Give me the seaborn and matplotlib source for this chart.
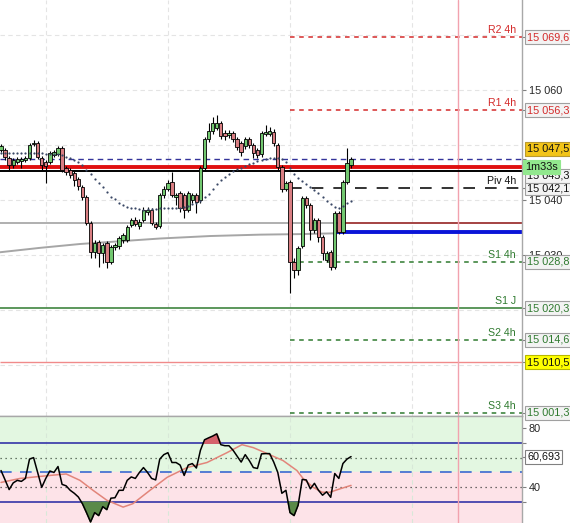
import numpy as np
import pandas as pd
import matplotlib
matplotlib.use("Agg")
import matplotlib.pyplot as plt
import matplotlib.transforms as mtransforms
import seaborn as sns

# bougies (prix)
opens = [15049.1, 15049.1, 15047.6, 15046.4, 15046.9, 15047.1, 15047.3, 15047.6, 15050.2, 15050.4,
         15047.6, 15046.9, 15046.9, 15048.2, 15048.4, 15049.5, 15045.8, 15045.5, 15044.9, 15043.8,
         15042.4, 15040.5, 15035.8, 15030.5, 15032.4, 15030.4, 15032.2, 15028.7, 15031.5, 15031.6,
         15032.7, 15032.7, 15035.5, 15036.4, 15035.3, 15036.4, 15037.8, 15038.2, 15035.6, 15035.3,
         15040.9, 15042.0, 15043.3, 15040.5, 15041.3, 15040.9, 15038.2, 15040.0, 15040.9, 15040.0,
         15045.8, 15051.1, 15052.5, 15053.1, 15054.0, 15052.2, 15051.8, 15052.2, 15051.1, 15050.4,
         15049.8, 15051.1, 15050.0, 15049.1, 15048.4, 15052.0, 15052.0, 15052.4, 15050.0, 15046.0,
         15042.0, 15043.3, 15028.7, 15027.3, 15031.6, 15040.4, 15039.1, 15034.5, 15036.4, 15033.3,
         15029.1, 15030.5, 15027.8, 15037.6, 15034.2, 15043.3, 15046.4]
closes = [15049.8, 15047.8, 15046.4, 15047.3, 15047.5, 15047.5, 15047.6, 15050.0, 15050.4, 15047.8,
          15046.4, 15046.2, 15048.5, 15048.7, 15049.5, 15045.5, 15045.1, 15044.5, 15043.6, 15042.5,
          15040.5, 15035.8, 15030.5, 15032.2, 15030.4, 15031.8, 15028.7, 15031.5, 15031.8, 15033.1,
          15033.6, 15035.1, 15036.4, 15035.6, 15036.0, 15038.2, 15038.2, 15035.8, 15035.1, 15040.9,
          15042.0, 15043.1, 15040.9, 15040.9, 15038.5, 15038.2, 15041.3, 15040.9, 15039.6, 15045.8,
          15051.1, 15052.5, 15054.0, 15054.0, 15051.6, 15051.6, 15052.2, 15051.1, 15049.6, 15048.7,
          15051.1, 15050.0, 15048.5, 15048.2, 15052.2, 15052.4, 15052.5, 15050.4, 15046.0, 15042.0,
          15043.1, 15028.7, 15027.3, 15031.3, 15040.4, 15039.1, 15034.5, 15036.4, 15033.3, 15030.4,
          15030.4, 15027.8, 15037.6, 15034.2, 15043.3, 15046.7, 15047.5]
highs = [15050.2, 15049.5, 15048.0, 15047.6, 15047.8, 15047.8, 15048.0, 15050.4, 15050.9, 15050.7,
         15048.0, 15047.3, 15048.9, 15049.1, 15049.8, 15049.8, 15046.2, 15045.8, 15045.3, 15044.2,
         15042.7, 15040.9, 15036.2, 15032.7, 15032.7, 15032.2, 15032.5, 15031.8, 15032.2, 15033.5,
         15034.0, 15035.5, 15036.7, 15036.9, 15036.5, 15038.7, 15038.7, 15038.5, 15036.0, 15041.3,
         15042.5, 15043.6, 15045.1, 15041.3, 15041.6, 15041.3, 15041.6, 15041.3, 15041.3, 15046.2,
         15051.5, 15054.0, 15055.1, 15055.5, 15054.4, 15052.7, 15052.7, 15052.5, 15051.5, 15050.7,
         15051.5, 15051.5, 15050.4, 15049.5, 15052.5, 15053.6, 15053.3, 15052.9, 15050.4, 15046.4,
         15043.5, 15043.6, 15029.5, 15031.6, 15040.7, 15040.7, 15039.5, 15036.7, 15036.7, 15033.6,
         15030.7, 15030.9, 15038.0, 15038.0, 15043.6, 15049.5, 15047.8]
lows = [15048.7, 15047.3, 15045.5, 15045.8, 15046.5, 15045.8, 15046.9, 15047.3, 15049.8, 15047.5,
        15045.5, 15043.1, 15046.5, 15047.8, 15048.0, 15045.1, 15044.5, 15044.0, 15042.5, 15041.8,
        15040.0, 15035.5, 15029.5, 15029.5, 15027.8, 15028.5, 15027.6, 15028.4, 15030.9, 15031.1,
        15032.2, 15032.4, 15035.1, 15035.3, 15034.7, 15036.0, 15037.3, 15035.5, 15034.7, 15034.9,
        15040.4, 15041.6, 15040.5, 15039.1, 15037.8, 15036.7, 15037.8, 15039.5, 15037.6, 15039.5,
        15045.3, 15050.5, 15052.0, 15052.7, 15051.1, 15050.9, 15051.3, 15050.5, 15049.1, 15048.0,
        15049.3, 15049.5, 15047.6, 15047.6, 15047.8, 15051.6, 15051.6, 15049.8, 15045.5, 15041.5,
        15041.6, 15023.1, 15025.8, 15026.4, 15031.3, 15038.5, 15032.7, 15034.0, 15032.4, 15029.1,
        15028.7, 15027.3, 15027.5, 15033.8, 15033.8, 15042.9, 15045.8]

# moyenne mobile en pointillés
ma_dots = [15048.6, 15048.6, 15048.6, 15048.6, 15048.6, 15048.6, 15048.6, 15048.6, 15048.5, 15048.5,
           15048.5, 15048.4, 15048.4, 15048.4, 15048.3, 15048.2, 15047.9, 15047.6, 15047.3, 15046.9,
           15046.3, 15045.5, 15044.8, 15043.9, 15043.1, 15042.3, 15041.5, 15040.5, 15040.1, 15039.5,
           15039.1, 15038.8, 15038.6, 15038.5, 15038.4, 15038.2, 15038.3, 15038.4, 15038.4, 15038.5,
           15038.5, 15038.5, 15038.5, 15038.5, 15038.6, 15038.8, 15038.9, 15039.3, 15039.5, 15039.8,
           15040.5, 15041.1, 15042.0, 15042.9, 15043.6, 15044.2, 15044.7, 15045.2, 15045.6, 15045.9,
           15046.2, 15046.5, 15046.7, 15047.0, 15047.3, 15047.5, 15047.6, 15047.6, 15047.6, 15047.5,
           15046.9, 15045.8, 15044.7, 15044.0, 15043.5, 15042.9, 15042.4, 15041.9, 15041.3, 15040.5,
           15039.8, 15039.2, 15038.7, 15038.6, 15038.9, 15039.4, 15039.8]

# moyenne longue (grise)
ma_long_idx = [-0.25, 9.6, 19.4, 29.2, 39.1, 51.4, 63.6, 73.5, 82.6]
ma_long_val = [15030.5, 15031.3, 15032.0, 15032.5, 15033.0, 15033.45, 15033.7, 15033.8, 15033.95]

# RSI
rsi = [51.3, 45, 38.5, 43, 44.7, 44, 46, 59, 60, 50,
       40, 46, 51, 50, 54, 42, 41, 38, 36, 33.5,
       29, 23, 16.7, 23, 21, 27, 25, 32.7, 33, 38,
       38, 44.7, 47, 46, 50, 53.3, 50, 46, 45, 59,
       62, 63.3, 56.7, 56.7, 55, 48, 55, 56, 53, 65,
       72, 73.3, 74.5, 76, 68.7, 68, 68, 65, 61, 57,
       62, 58, 53.3, 52.7, 62.5, 62.7, 62.7, 57, 50, 36,
       38, 23, 21, 28, 45.3, 45, 39, 42.7, 38, 34.7,
       37, 33.3, 49.3, 46, 56, 59, 60.693]
rsi_ma_idx = [0, 4.7, 12, 16, 19.4, 22.6, 26, 30, 32.4, 36.6, 40.8, 45.7, 50.6,
              55.5, 59.2, 62, 65.4, 69.3, 72.7, 74.2, 76.7, 78.9, 80.8, 83.3, 86]
rsi_ma_val = [43.3, 46, 48, 49, 44.7, 38, 31.3, 26.7, 29, 38, 46.7, 53.3, 56.7,
              63.3, 68.7, 66.7, 62.7, 58, 51.3, 46, 40, 36.7, 36.7, 39, 41.3]

# niveaux pivots
level_names = ['R2 4h', 'R1 4h', 'Piv 4h', 'S1 4h', 'S1 J', 'S2 4h', 'S3 4h']
level_values = [15069.6, 15056.3, 15042.1, 15028.8, 15020.3, 15014.6, 15001.3]
level_colors = ['#d42a2a', '#d42a2a', '#111111', '#2f7a2f', '#2f7a2f', '#2f7a2f', '#2f7a2f']
level_styles = [(0, (3, 3)), (0, (3, 3)), (0, (7, 6)), (0, (3, 3)), '-', (0, (3, 3)), (0, (3, 3))]
level_start = [71, 71, 71, 71, None, 71, 71]

last_price = 15047.5
red_line = 15046.0
black_line = 15045.3
gray_line = 15035.8
darkred_line = 15035.8
blue_line = 15034.2
pink_line = 15010.5
timer_text = '1m33s'
rsi_last = 60.693


def fmt(v):
    return f"{v:,.1f}".replace(',', ' ').replace('.', ',')


sns.set_style("white")
plt.rcParams['font.family'] = ['Liberation Sans', 'DejaVu Sans']

fig = plt.figure(figsize=(5.70, 5.23), dpi=100)
ax = fig.add_axes([0, 107 / 523, 522 / 570, 416 / 523])
ax2 = fig.add_axes([0, 0, 522 / 570, 107 / 523])

xmin, xmax = -0.25, 128.0
idx = np.arange(len(closes))
df = pd.DataFrame({'i': idx, 'o': opens, 'h': highs, 'l': lows, 'c': closes})
df['up'] = df['c'] >= df['o']

# grille
grid_x = [11, 41, 71, 101]
for g in grid_x:
    ax.axvline(g, color='#e4e4e4', lw=0.8, ls=(0, (4, 3)), zorder=0)
    ax2.axvline(g, color='#d8e8d8', lw=0.8, ls=(0, (4, 3)), zorder=1)
for g in [15070, 15060, 15050, 15040, 15030, 15020, 15010]:
    ax.axhline(g, color='#e4e4e4', lw=0.8, ls=(0, (4, 3)), zorder=0)

# niveaux
for name, val, col, st, start in zip(level_names, level_values, level_colors, level_styles, level_start):
    x0 = xmin if start is None else start
    ax.hlines(val, x0, xmax, color=col, lw=1.1 if name != 'Piv 4h' else 1.2, linestyles=st, zorder=1)
    ax.annotate(name, xy=(126.5, val), xytext=(0, 2), textcoords='offset pixels',
                ha='right', va='bottom', fontsize=7.6, color=col)

ax.hlines(pink_line, xmin, xmax, color='#f08a8a', lw=1, zorder=1)
ax.hlines(last_price, xmin, xmax, color='#34349a', lw=1, linestyles=(0, (4, 3)), zorder=1)
ax.hlines(gray_line, xmin, 83, color='#9a9a9a', lw=1.1, zorder=1)
ax.hlines(darkred_line, 83, xmax, color='#8b1010', lw=1.1, zorder=1)
ax.hlines(blue_line, 82.6, xmax, color='#0a14d8', lw=2.8, zorder=2)
ax.hlines(red_line, xmin, xmax, color='#e01010', lw=2.8, zorder=2)
ax.hlines(black_line, xmin, xmax, color='black', lw=1.4, zorder=2)

sns.lineplot(x=ma_long_idx, y=ma_long_val, ax=ax, color='#a6a6a6', lw=1.4, zorder=1)

# bougies
ax.vlines(df['i'], df['l'], df['h'], color='black', lw=0.8, zorder=3)
body_bottom = np.minimum(df['o'], df['c'])
body_h = np.maximum(np.abs(df['c'] - df['o']), 0.15)
colors = np.where(df['up'], '#72c870', '#d97e82')
ax.bar(df['i'], body_h, bottom=body_bottom, width=0.82, color=colors,
       edgecolor='black', linewidth=0.6, zorder=4)

ax.plot(idx, ma_dots, ls='none', marker='o', ms=1.6, mew=0, color='#3a4866', zorder=5)

ax.axvline(112.3, color='#f2a2ae', lw=1, zorder=1)

ax.set_xlim(xmin, xmax)
ax.set_ylim(15000.73, 15076.36)
ax.set_xticks([])
ax.set_xlabel('')
ax.set_ylabel('')

trans = mtransforms.blended_transform_factory(ax.transAxes, ax.transData)
tick_vals = [15069.6, 15060, 15056.3, 15047.5, 15045.3, 15042.1, 15040, 15030,
             15028.8, 15020.3, 15014.6, 15010.5, 15001.3]
tick_lbls = ['' if v not in (15060, 15040, 15030) else fmt(v).replace(',0', '') for v in tick_vals]
ax.yaxis.tick_right()
ax.set_yticks(tick_vals)
ax.set_yticklabels(tick_lbls)
ax.tick_params(axis='y', length=3, width=0.8, color='#808080', labelsize=7.8, pad=2)

box = dict(boxstyle='square,pad=0.18', fc='#f3f3f3', ec='#a0a0a0', lw=0.8)
for name, val, col in zip(level_names, level_values, level_colors):
    ax.text(1.01, val, fmt(val), transform=trans, fontsize=7.8, color=col,
            va='center', ha='left', bbox=box, clip_on=False, zorder=6)
ax.text(1.01, black_line - 0.9, fmt(black_line), transform=trans, fontsize=7.8, color='#111111',
        va='center', ha='left', bbox=box, clip_on=False, zorder=6)
ax.text(1.01, last_price + 1.8, fmt(last_price), transform=trans, fontsize=7.8, color='#111111',
        va='center', ha='left', clip_on=False, zorder=7,
        bbox=dict(boxstyle='square,pad=0.18', fc='#f2c418', ec='#b89a30', lw=0.8))
ax.text(1.006, red_line, timer_text, transform=trans, fontsize=7.8, color='#111111',
        va='center', ha='left', clip_on=False, zorder=8,
        bbox=dict(boxstyle='square,pad=0.22', fc='#92e88e', ec='#92e88e', lw=0.8))
ax.text(1.01, pink_line, fmt(pink_line), transform=trans, fontsize=7.8, color='#111111',
        va='center', ha='left', clip_on=False, zorder=7,
        bbox=dict(boxstyle='square,pad=0.18', fc='#ffff00', ec='#b8b800', lw=0.8))

for s in ['left', 'top']:
    ax.spines[s].set_visible(False)
for s in ['right', 'bottom']:
    ax.spines[s].set_color('#a8a8a8')
    ax.spines[s].set_linewidth(1)

# panneau RSI
ax2.axhspan(50, 88, color='#e3f7e1', zorder=0)
ax2.axhspan(16, 50, color='#fde3e8', zorder=0)
ax2.axhline(70, color='#3434a8', lw=1.2, zorder=2)
ax2.axhline(30, color='#3434a8', lw=1.2, zorder=2)
ax2.axhline(50, color='#3a6ad0', lw=1.2, ls=(0, (7, 5)), zorder=2)
ax2.axhline(60, color='#405040', lw=0.9, ls=(0, (1, 3)), zorder=2)
ax2.axhline(40, color='#404040', lw=0.9, ls=(0, (1, 3)), zorder=2)
ax2.axvline(112.3, color='#f2a2ae', lw=1, zorder=2)

rsi_arr = np.array(rsi)
ax2.fill_between(idx, rsi_arr, 70, where=rsi_arr > 70, interpolate=True, color='#d6626c', zorder=3)
ax2.fill_between(idx, rsi_arr, 30, where=rsi_arr < 30, interpolate=True, color='#5a8a48', zorder=3)
sns.lineplot(x=rsi_ma_idx, y=rsi_ma_val, ax=ax2, color='#e2857a', lw=1.1, zorder=4)
sns.lineplot(x=idx, y=rsi, ax=ax2, color='black', lw=1.1, zorder=5)

ax2.set_xlim(xmin, xmax)
ax2.set_ylim(16, 88)
ax2.set_xticks([])
ax2.set_xlabel('')
ax2.set_ylabel('')
ax2.yaxis.tick_right()
ax2.set_yticks([80, 70, rsi_last, 40, 30])
ax2.set_yticklabels(['80', '', '', '40', ''])
ax2.tick_params(axis='y', length=3, width=0.8, color='#808080', labelsize=7.8, pad=2)
trans2 = mtransforms.blended_transform_factory(ax2.transAxes, ax2.transData)
ax2.text(1.01, rsi_last, f"{rsi_last:.3f}".replace('.', ','), transform=trans2, fontsize=7.8,
         color='#111111', va='center', ha='left', clip_on=False, zorder=7,
         bbox=dict(boxstyle='square,pad=0.18', fc='white', ec='#808080', lw=0.8))
for s in ['left', 'bottom']:
    ax2.spines[s].set_visible(False)
for s in ['right', 'top']:
    ax2.spines[s].set_color('#a8a8a8')
    ax2.spines[s].set_linewidth(1)

fig.savefig('out.png', dpi=100)
